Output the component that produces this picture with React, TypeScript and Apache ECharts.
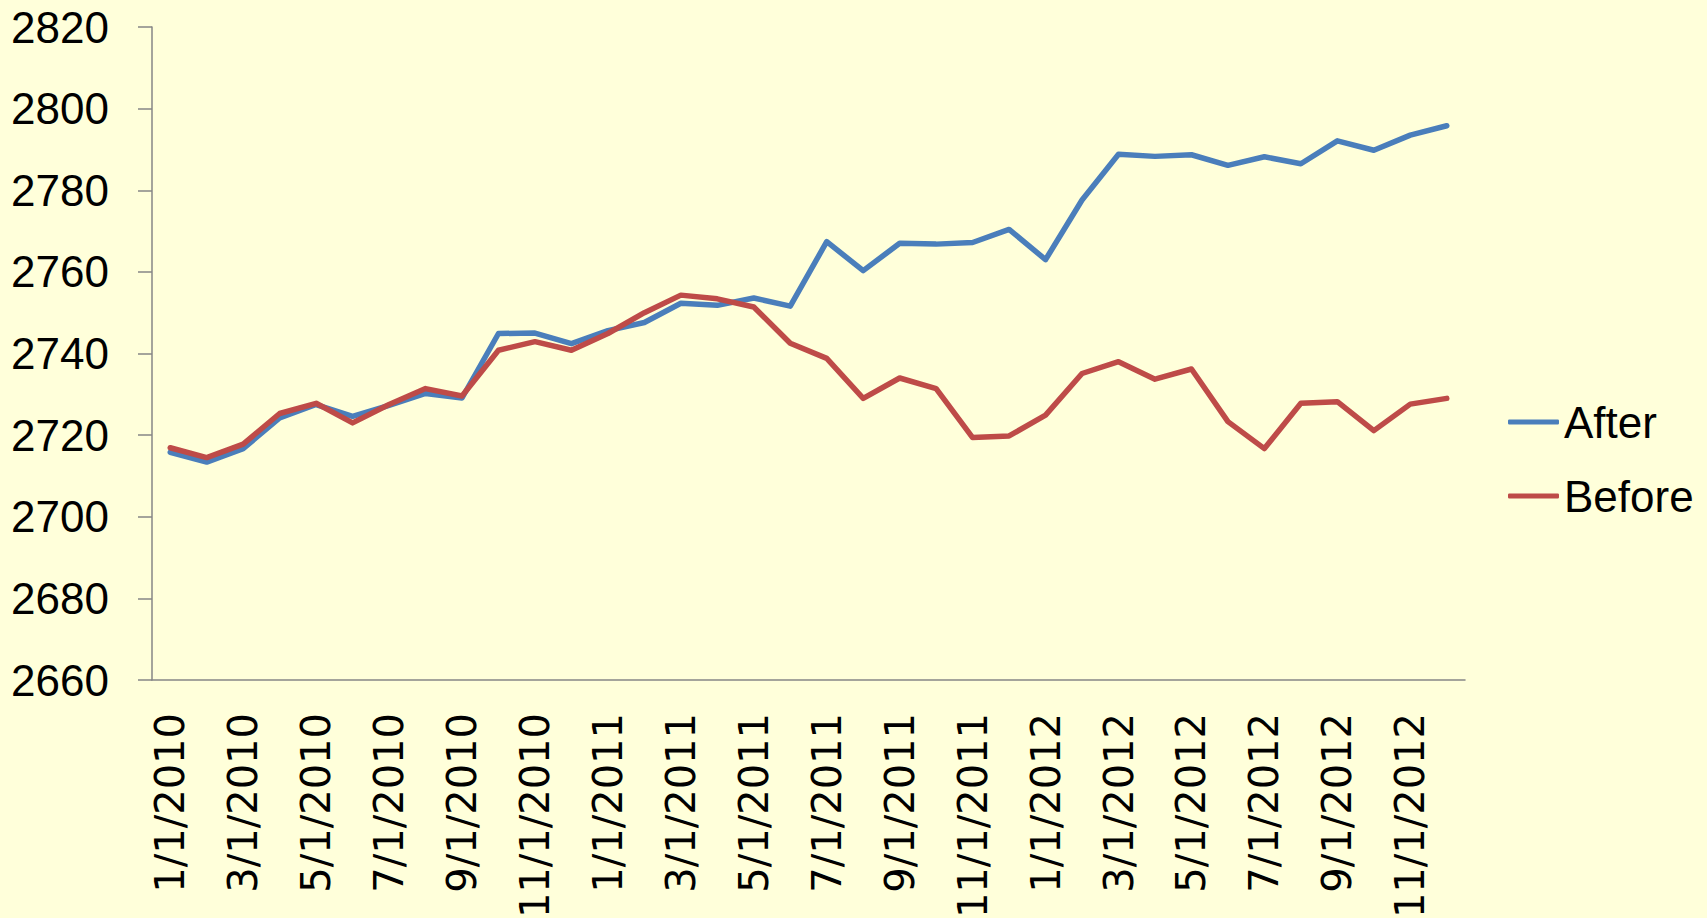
import React, { useEffect, useRef } from "react";
import * as echarts from "echarts";

const categories = [
  "1/1/2010", "2/1/2010", "3/1/2010", "4/1/2010", "5/1/2010", "6/1/2010",
  "7/1/2010", "8/1/2010", "9/1/2010", "10/1/2010", "11/1/2010", "12/1/2010",
  "1/1/2011", "2/1/2011", "3/1/2011", "4/1/2011", "5/1/2011", "6/1/2011",
  "7/1/2011", "8/1/2011", "9/1/2011", "10/1/2011", "11/1/2011", "12/1/2011",
  "1/1/2012", "2/1/2012", "3/1/2012", "4/1/2012", "5/1/2012", "6/1/2012",
  "7/1/2012", "8/1/2012", "9/1/2012", "10/1/2012", "11/1/2012", "12/1/2012",
];

const afterValues = [
  2715.8, 2713.4, 2716.7, 2724.2, 2727.5, 2724.6, 2727.3, 2730.2, 2729.1,
  2744.9, 2745.0, 2742.4, 2745.6, 2747.6, 2752.3, 2751.8, 2753.6, 2751.6,
  2767.4, 2760.3, 2767.0, 2766.8, 2767.2, 2770.4, 2763.0, 2777.6, 2788.8,
  2788.3, 2788.7, 2786.1, 2788.2, 2786.5, 2792.1, 2789.8, 2793.5, 2795.8,
];

const beforeValues = [
  2716.9, 2714.5, 2717.8, 2725.3, 2727.8, 2723.0, 2727.5, 2731.4, 2729.6,
  2740.8, 2742.9, 2740.8, 2744.9, 2750.0, 2754.3, 2753.4, 2751.4, 2742.5,
  2738.8, 2729.0, 2734.0, 2731.4, 2719.4, 2719.8, 2724.9, 2735.1, 2738.0,
  2733.7, 2736.2, 2723.3, 2716.7, 2727.8, 2728.2, 2721.1, 2727.6, 2729.0,
];

const seriesNames = ["After", "Before"];
const seriesColors = ["#4A7EBB", "#BE4B48"];

const Y_MIN = 2660;
const Y_MAX = 2820;
const Y_STEP = 20;

export default function App() {
  const ref = useRef<HTMLDivElement>(null);

  useEffect(() => {
    if (!ref.current) return;
    const chart = echarts.init(ref.current, null, { renderer: "svg" });
    const axisGray = "#868686";
    chart.setOption({
      animation: false,
      backgroundColor: "#FFFFDA",
      grid: {
        left: 152,
        right: 242,
        top: 27,
        bottom: 238,
        containLabel: false,
        outerBoundsMode: "none",
      },
      legend: {
        orient: "vertical",
        left: 1508,
        top: 400,
        padding: 0,
        icon: "roundRect",
        itemWidth: 51,
        itemHeight: 5,
        itemGap: 30,
        data: seriesNames,
        textStyle: {
          fontFamily: "Liberation Sans",
          fontSize: 44,
          color: "#000",
          lineHeight: 44,
        },
      },
      xAxis: {
        type: "category",
        data: categories,
        boundaryGap: true,
        axisLine: { lineStyle: { color: axisGray, width: 1.5 } },
        axisTick: { interval: 1, length: 14, lineStyle: { color: axisGray, width: 1.5 } },
        axisLabel: {
          interval: 1,
          rotate: 90,
          margin: 33,
          fontFamily: "DejaVu Sans",
          fontSize: 40,
          color: "#000",
        },
        splitLine: { show: false },
      },
      yAxis: {
        type: "value",
        min: Y_MIN,
        max: Y_MAX,
        interval: Y_STEP,
        axisLine: { show: true, lineStyle: { color: axisGray, width: 1.5 } },
        axisTick: { show: true, length: 14, lineStyle: { color: axisGray, width: 1.5 } },
        axisLabel: {
          margin: 43,
          fontFamily: "Liberation Sans",
          fontSize: 44,
          color: "#000",
          formatter: (v: number) => String(v),
        },
        splitLine: { show: false },
      },
      series: [
        {
          name: seriesNames[0],
          type: "line",
          data: afterValues,
          symbol: "none",
          color: seriesColors[0],
          lineStyle: { width: 5.5, color: seriesColors[0], cap: "round", join: "round" },
        },
        {
          name: seriesNames[1],
          type: "line",
          data: beforeValues,
          symbol: "none",
          color: seriesColors[1],
          lineStyle: { width: 5.5, color: seriesColors[1], cap: "round", join: "round" },
        },
      ],
    });
    return () => chart.dispose();
  }, []);

  return (
    <div
      ref={ref}
      style={{ position: "fixed", left: 0, top: 0, width: 1707, height: 918 }}
    />
  );
}
